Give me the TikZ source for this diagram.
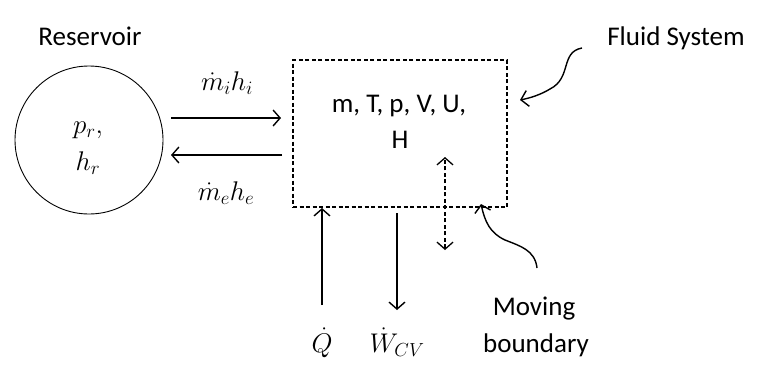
\RequirePackage{fix-cm}
\documentclass[tikz,border=0pt]{standalone}
\usepackage{fontspec}
\setmainfont{Carlito}
\usetikzlibrary{arrows.meta}

\newcommand{\txtsize}{\fontsize{27}{36}\selectfont}
\newcommand{\mathsize}{\fontsize{27}{32}\selectfont}

\tikzset{
  flow/.style={line width=1.4pt, -{Straight Barb[length=7pt,width=16pt,line width=1.4pt]}},
  dflow/.style={line width=1.3pt, dash pattern=on 4pt off 2.5pt,
    {Straight Barb[length=7pt,width=16pt,line width=1.3pt]}-{Straight Barb[length=7pt,width=16pt,line width=1.3pt]}},
  label/.style={anchor=base, inner sep=0pt, font=\txtsize},
  mlabel/.style={anchor=base, inner sep=0pt, font=\mathsize},
}

\begin{document}
\begin{tikzpicture}[x=1pt, y=-1pt]
  \useasboundingbox (0,0) rectangle (779,381);
  % reservoir and control volume
  \node[circle, draw, line width=0.9pt, minimum size=148pt, inner sep=0pt] (res) at (89,140) {};
  \node[draw, line width=1.3pt, dash pattern=on 4pt off 2.5pt, minimum width=214pt, minimum height=147pt,
    inner sep=0pt] (cv) at (400,133.5) {};
  \node[label] (resname) at (90,45) {Reservoir};
  \node[label] (fluid) at (676,45) {Fluid System};
  \node[mlabel] (pr) at (88,133) {$p_r,$};
  \node[mlabel] (hr) at (88,170) {$h_r$};
  \node[label] (props) at (399,112) {m, T, p, V, U,};
  \node[label] (propH) at (400,148) {H};
  \node[label] (moving) at (534,315) {Moving};
  \node[label] (bound) at (536,352) {boundary};
  \node[mlabel] (Qdot) at (322,352) {$\dot{Q}$};
  \node[mlabel] (Wdot) at (397,352) {$\dot{W}_{CV}$};
  \node[mlabel] (mi) at (227,90) {$\dot{m}_i h_i$};
  \node[mlabel] (me) at (226,200) {$\dot{m}_e h_e$};
  % arrow end points
  \coordinate (inA) at (171,118);
  \coordinate (inB) at (281,118);
  \coordinate (outA) at (282,155);
  \coordinate (outB) at (171,155);
  \coordinate (qA) at (322,305);
  \coordinate (qB) at (322,208);
  \coordinate (wA) at (397,213);
  \coordinate (wB) at (397,310);
  \coordinate (bA) at (445,250);
  \coordinate (bB) at (445,157);
  \coordinate (fsA) at (582,48);
  \coordinate (fsB) at (520,100);
  \coordinate (mbA) at (537,268);
  \coordinate (mbB) at (481,204);
  % flows
  \draw[flow] (inA) -- (inB);
  \draw[flow] (outA) -- (outB);
  \draw[flow] (qA) -- (qB);
  \draw[flow] (wA) -- (wB);
  \draw[dflow] (bA) -- (bB);
  \draw[flow] (fsA) .. controls (560,52) and (572,78) .. (550,89)
    .. controls (540,95) and (530,98) .. (fsB);
  \draw[flow] (mbA) .. controls (535,250) and (520,246) .. (505,240)
    .. controls (490,233) and (485,222) .. (mbB);
\end{tikzpicture}
\end{document}
